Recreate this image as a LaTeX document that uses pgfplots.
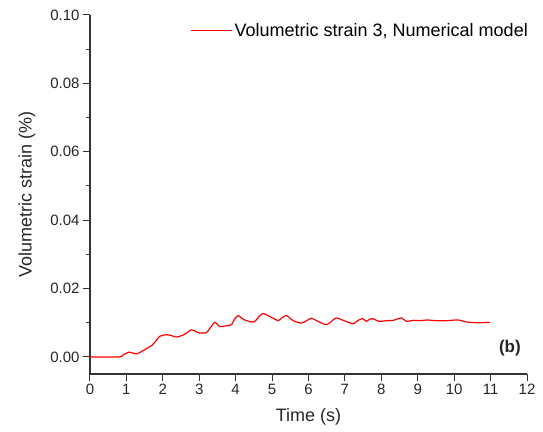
\documentclass[border=0pt]{standalone}
\usepackage{pgfplots}
\pgfplotsset{compat=1.18}
\usepackage{fontspec}
\setmainfont{Liberation Sans}
\begin{document}
\begin{tikzpicture}
\path[use as bounding box] (-90bp,-58bp) rectangle (453bp,374bp);
\begin{axis}[
  at={(0,0)}, anchor=south west,
  scale only axis, width=437bp, height=359bp,
  xmin=0, xmax=12, ymin=-0.005, ymax=0.10,
  axis x line*=bottom, axis y line*=left,
  axis line style={line width=1.1bp, color=black!80},
  tick style={line width=1bp, color=black!80},
  tick align=outside, xtick pos=left, ytick pos=left,
  major tick length=7bp, minor tick length=4bp,
  xtick={0,1,2,3,4,5,6,7,8,9,10,11,12},
  ytick={0,0.02,0.04,0.06,0.08,0.10},
  minor ytick={0.01,0.03,0.05,0.07,0.09},
  scaled y ticks=false,
  yticklabel style={/pgf/number format/.cd, fixed, fixed zerofill, precision=2},
  /pgf/number format/assume math mode=true,
  ticklabel style={font=\fontsize{15bp}{18bp}\selectfont, color=black!85},
  xlabel={Time (s)}, ylabel={Volumetric strain (\%)},
  label style={font=\fontsize{18bp}{21bp}\selectfont, color=black!85},
  xlabel style={at={(axis description cs:0.5,-0.12)}, anchor=center},
  ylabel style={at={(axis description cs:-0.144,0.5)}, anchor=center},
  legend style={at={(1,1)}, anchor=north east, xshift=4bp, yshift=-5bp,
    draw=none, fill=none,
    font=\fontsize{18bp}{21bp}\selectfont, inner sep=1bp},
  legend cell align=left,
  legend image code/.code={\draw[red, line width=1.2bp] (0bp,0bp) -- (41bp,0bp);},
]
\addplot[color=red, line width=1.2bp, smooth, tension=0.4] coordinates {
(0,0) (0.80,0) (0.9,0.0005) (1.07,0.0014) (1.18,0.0011) (1.29,0.0009)
(1.42,0.0016) (1.55,0.0024) (1.69,0.0033) (1.80,0.0045) (1.91,0.0060)
(2.10,0.0065) (2.25,0.0062) (2.37,0.0058) (2.56,0.0064) (2.68,0.0072)
(2.77,0.0079) (2.88,0.0076) (2.99,0.0070) (3.20,0.0071) (3.30,0.0085)
(3.43,0.0101) (3.56,0.0089) (3.75,0.0091) (3.88,0.0094) (3.97,0.0110)
(4.07,0.0121) (4.18,0.0112) (4.30,0.0106) (4.50,0.0102) (4.62,0.0115)
(4.74,0.0127) (4.94,0.0118) (5.17,0.0106) (5.28,0.0115) (5.40,0.0121)
(5.50,0.0112) (5.62,0.0104) (5.81,0.0099) (5.95,0.0106) (6.08,0.0113)
(6.26,0.0104) (6.49,0.0094) (6.62,0.0103) (6.77,0.0114) (7.00,0.0105)
(7.23,0.0097) (7.35,0.0106) (7.48,0.0112) (7.59,0.0104) (7.68,0.0110)
(7.76,0.0112) (7.94,0.0104) (8.14,0.0106) (8.33,0.0107) (8.55,0.0114)
(8.69,0.0104) (8.88,0.0107) (9.06,0.0106) (9.25,0.0108) (9.52,0.0106)
(9.79,0.0106) (10.11,0.0108) (10.34,0.0102) (10.62,0.0100) (10.98,0.0101)
};
\addlegendentry{Volumetric strain 3, Numerical model}
\node[font=\fontsize{17bp}{20bp}\selectfont\bfseries, text=black!85] at (axis cs:11.53,0.0027) {(b)};
\end{axis}
\end{tikzpicture}
\end{document}
